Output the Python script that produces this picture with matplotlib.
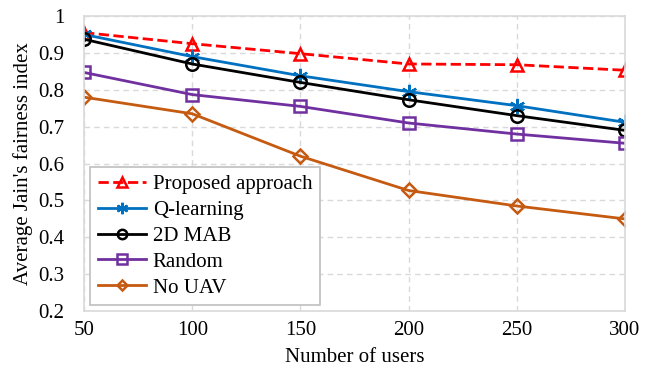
import matplotlib
matplotlib.use("Agg")
import matplotlib.pyplot as plt

users = [50, 100, 150, 200, 250, 300]
proposed = [0.955, 0.925, 0.898, 0.870, 0.868, 0.853]
qlearning = [0.950, 0.890, 0.838, 0.795, 0.757, 0.712]
mab2d = [0.937, 0.870, 0.820, 0.773, 0.730, 0.690]
random_sel = [0.847, 0.787, 0.755, 0.710, 0.680, 0.655]
no_uav = [0.780, 0.735, 0.620, 0.527, 0.485, 0.450]

y_ticks = [0.2, 0.3, 0.4, 0.5, 0.6, 0.7, 0.8, 0.9, 1.0]
y_labels = ["0.2", "0.3", "0.4", "0.5", "0.6", "0.7", "0.8", "0.9", "1"]

plt.rcParams["font.family"] = ["Liberation Serif", "DejaVu Serif"]

fig = plt.figure(figsize=(6.57, 3.73), dpi=100)
ax = fig.add_axes([0.128, 0.166, 0.823, 0.791])

common = dict(lw=2, markersize=9, fillstyle="none", markeredgewidth=1.8)
ax.plot(users, proposed, "--", marker="^", color="#FF0000",
        label="Proposed approach", **common)
ax.plot(users, qlearning, "-", marker=(6, 2, 0), color="#0070C0",
        label="Q-learning", lw=2, markersize=11, markeredgewidth=1.6)
ax.plot(users, mab2d, "-", marker="o", color="#000000",
        label="2D MAB", **common)
ax.plot(users, random_sel, "-", marker="s", color="#7030A0",
        label="Random", **common)
ax.plot(users, no_uav, "-", marker="D", color="#C55A11",
        label="No UAV", lw=2, markersize=7, fillstyle="none", markeredgewidth=1.8)

ax.set_xlim(50, 300)
ax.set_ylim(0.2, 1.0)
ax.set_xticks(users)
ax.set_yticks(y_ticks)
ax.set_yticklabels(y_labels)
ax.tick_params(labelsize=15, length=0)
ax.tick_params(axis="x", pad=7)
ax.tick_params(axis="y", pad=14)
ax.grid(True, color="#D9D9D9", ls=(0, (4, 3)), lw=1)
ax.set_axisbelow(True)
for s in ax.spines.values():
    s.set_color("#D9D9D9")
    s.set_linewidth(1.2)

ax.set_xlabel("Number of users", fontsize=15, labelpad=6)
ax.set_ylabel("Average Jain's fairness index", fontsize=15, labelpad=4)

leg = ax.legend(loc="lower left", fontsize=15, handlelength=2.3,
                fancybox=False, edgecolor="#BFBFBF", framealpha=1,
                borderaxespad=0.3, borderpad=0.35, labelspacing=0.3,
                handletextpad=0.35, markerscale=0.75)
leg.get_frame().set_linewidth(1.2)

fig.savefig("out.png", dpi=100)
